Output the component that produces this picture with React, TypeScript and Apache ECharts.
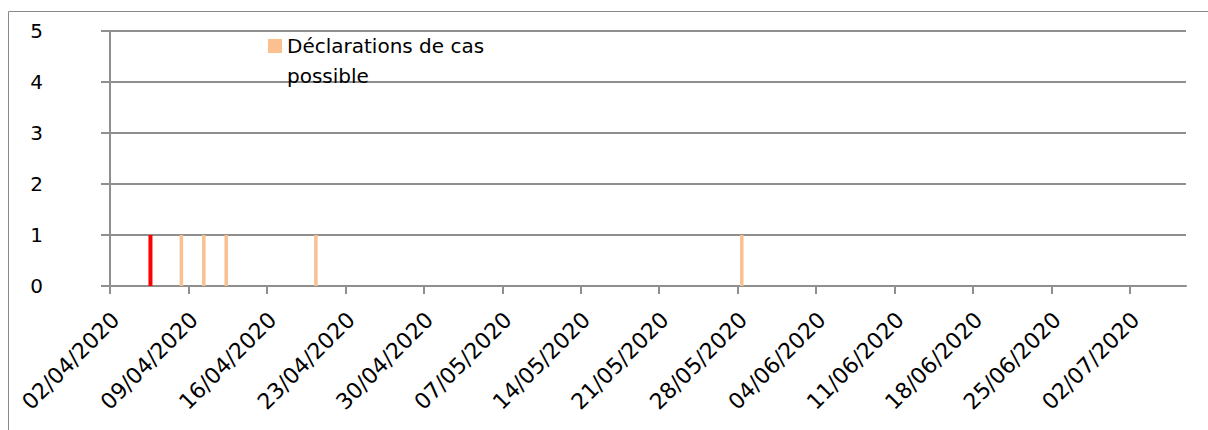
import React, { useEffect, useRef } from "react";
import * as echarts from "echarts";

// ---- data ----
const START_DATE = "2020-04-02"; // first day of the date axis
const DAY_COUNT = 96; // one category per day: 02/04/2020 .. 06/07/2020
const TICK_DAYS = [0, 7, 14, 21, 28, 35, 42, 49, 56, 63, 70, 77, 84, 91];

const POSSIBLE_DATES = ["08/04/2020", "10/04/2020", "12/04/2020", "20/04/2020", "28/05/2020"];
const POSSIBLE_VALUES = [1, 1, 1, 1, 1];
const CONFIRMED_DATES = ["05/04/2020"];
const CONFIRMED_VALUES = [1];

const Y_MIN = 0;
const Y_MAX = 5;

const SERIES_POSSIBLE = "Déclarations de cas possible";
const SERIES_CONFIRMED = "Cas confirmé";

const pad2 = (n: number) => (n < 10 ? "0" + n : "" + n);
const fmtDate = (d: Date) =>
  pad2(d.getUTCDate()) + "/" + pad2(d.getUTCMonth() + 1) + "/" + d.getUTCFullYear();

const CATEGORIES: string[] = (() => {
  const out: string[] = [];
  const t0 = Date.parse(START_DATE + "T00:00:00Z");
  for (let i = 0; i < DAY_COUNT; i++) out.push(fmtDate(new Date(t0 + i * 86400000)));
  return out;
})();

const toSeries = (dates: string[], values: number[]) =>
  CATEGORIES.map((c) => {
    const k = dates.indexOf(c);
    return k >= 0 ? values[k] : null;
  });

const FONT = "DejaVu Sans";
const GRID_COLOR = "#8f8f8f";

export default function App() {
  const ref = useRef<HTMLDivElement>(null);

  useEffect(() => {
    document.body.style.margin = "0";
    if (!ref.current) return;
    const chart = echarts.init(ref.current, undefined, { renderer: "svg" });
    chart.setOption({
      animation: false,
      backgroundColor: "#ffffff",
      textStyle: { fontFamily: FONT },
      graphic: [
        {
          type: "rect",
          silent: true,
          z: -10,
          shape: { x: 8.5, y: 11.5, width: 1400, height: 600 },
          style: { fill: "none", stroke: "#8a8a8a", lineWidth: 1 },
        },
      ],
      grid: { left: 110, right: 22, top: 31, bottom: 144, containLabel: false },
      legend: {
        data: [SERIES_POSSIBLE],
        left: 268,
        top: 1,
        padding: 0,
        icon: "rect",
        itemWidth: 14,
        itemHeight: 14,
        formatter: (name: string) => "\n" + name.replace(/ possible$/, "\npossible"),
        textStyle: { fontFamily: FONT, fontSize: 20, color: "#000000", lineHeight: 30 },
      },
      xAxis: [
        {
          type: "category",
          data: CATEGORIES,
          boundaryGap: true,
          axisLine: { show: true, onZero: false, lineStyle: { color: GRID_COLOR, width: 2 } },
          axisTick: { show: false },
          axisLabel: {
            interval: 6,
            rotate: 45,
            margin: 30,
            fontFamily: FONT,
            fontSize: 22,
            color: "#000000",
          },
          splitLine: { show: false },
        },
        {
          type: "value",
          position: "bottom",
          min: 0,
          max: DAY_COUNT,
          interval: 7,
          axisLine: { show: false, onZero: false },
          axisTick: {
            show: true,
            length: 8,
            customValues: TICK_DAYS,
            lineStyle: { color: GRID_COLOR, width: 2 },
          },
          axisLabel: { show: false },
          splitLine: { show: false },
        },
      ],
      yAxis: {
        type: "value",
        min: Y_MIN,
        max: Y_MAX,
        interval: 1,
        axisLine: { show: true, lineStyle: { color: GRID_COLOR, width: 2 } },
        axisTick: { show: true, length: 9, lineStyle: { color: GRID_COLOR, width: 2 } },
        axisLabel: { margin: 67, fontFamily: FONT, fontSize: 20, color: "#000000" },
        splitLine: { show: true, lineStyle: { color: GRID_COLOR, width: 2 } },
      },
      series: [
        {
          name: SERIES_POSSIBLE,
          type: "bar",
          xAxisIndex: 0,
          data: toSeries(POSSIBLE_DATES, POSSIBLE_VALUES),
          barWidth: 3.5,
          barGap: "-30%",
          itemStyle: { color: "#FAC090" },
        },
        {
          name: SERIES_CONFIRMED,
          type: "bar",
          xAxisIndex: 0,
          data: toSeries(CONFIRMED_DATES, CONFIRMED_VALUES),
          barWidth: 4,
          barGap: "-30%",
          itemStyle: { color: "#FF0000" },
        },
      ],
    });
    return () => chart.dispose();
  }, []);

  return <div ref={ref} style={{ width: 1208, height: 430 }} />;
}
